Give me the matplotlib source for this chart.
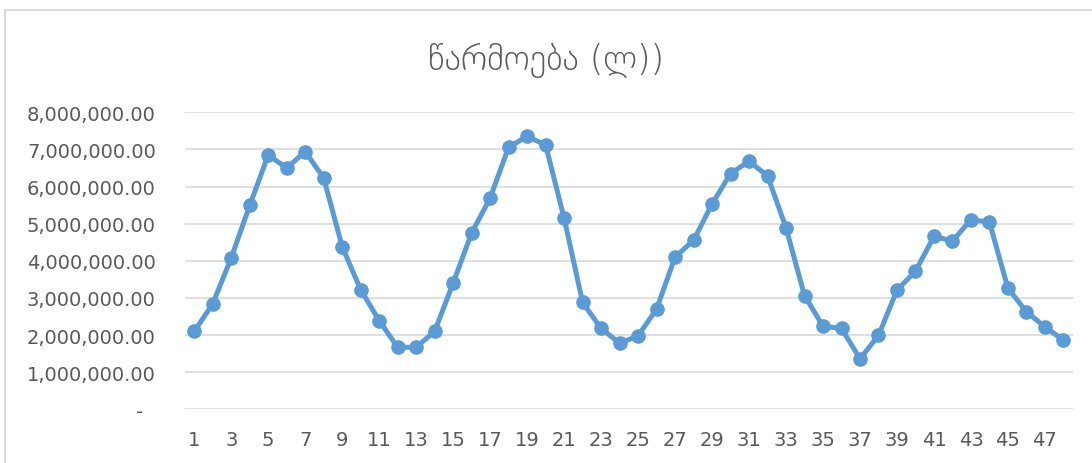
import matplotlib
matplotlib.use("Agg")
import matplotlib.pyplot as plt
from matplotlib.ticker import FuncFormatter
from matplotlib.lines import Line2D

# monthly production, litres
months = list(range(1, 49))
production = [
    2100000, 2840000, 4080000, 5490000, 6850000, 6500000, 6940000, 6230000,
    4380000, 3220000, 2390000, 1670000, 1670000, 2100000, 3400000, 4750000,
    5690000, 7060000, 7350000, 7120000, 5150000, 2880000, 2180000, 1780000,
    1980000, 2700000, 4100000, 4550000, 5530000, 6350000, 6680000, 6290000,
    4890000, 3060000, 2240000, 2180000, 1360000, 1990000, 3210000, 3720000,
    4660000, 4530000, 5110000, 5040000, 3260000, 2630000, 2220000, 1860000,
]
title = "წარმოება (ლ))"

text_color = "#595959"
grid_color = "#D9D9D9"
line_color = "#5B9BD5"

fig = plt.figure(figsize=(10.92, 4.64), dpi=100)
ax = fig.add_axes([0.1694, 0.1157, 0.8129, 0.6401])

ax.plot(months, production, color=line_color, linewidth=3.6,
        marker="o", markersize=9.5, markerfacecolor=line_color,
        markeredgecolor=line_color, solid_joinstyle="round")

ax.set_xlim(0.5, 48.5)
ax.set_ylim(0, 8000000)
ax.set_yticks(range(0, 8000001, 1000000))
ax.yaxis.set_major_formatter(
    FuncFormatter(lambda v, p: "-  " if v == 0 else f"{v:,.2f}"))
ax.set_xticks(months[::2])
ax.set_xticklabels([str(m) for m in months[::2]])

ax.grid(axis="y", color=grid_color, linewidth=1.2)
ax.set_axisbelow(True)
for side in ax.spines.values():
    side.set_visible(False)
ax.tick_params(length=0, labelsize=14, labelcolor=text_color)
ax.tick_params(axis="y", pad=21)
ax.tick_params(axis="x", pad=15)

fig.text(0.5, 0.87, title, ha="center", va="center", fontsize=25,
         color=text_color, family="DejaVu Sans", weight="light")

# chart area outline (only top and left edges fall inside the image)
fig.add_artist(Line2D([5 / 1092, 5 / 1092], [0, 1 - 11 / 464],
                      transform=fig.transFigure, color=grid_color, linewidth=1.5))
fig.add_artist(Line2D([5 / 1092, 1], [1 - 11 / 464, 1 - 11 / 464],
                      transform=fig.transFigure, color=grid_color, linewidth=1.5))

fig.savefig("out.png", dpi=100)
